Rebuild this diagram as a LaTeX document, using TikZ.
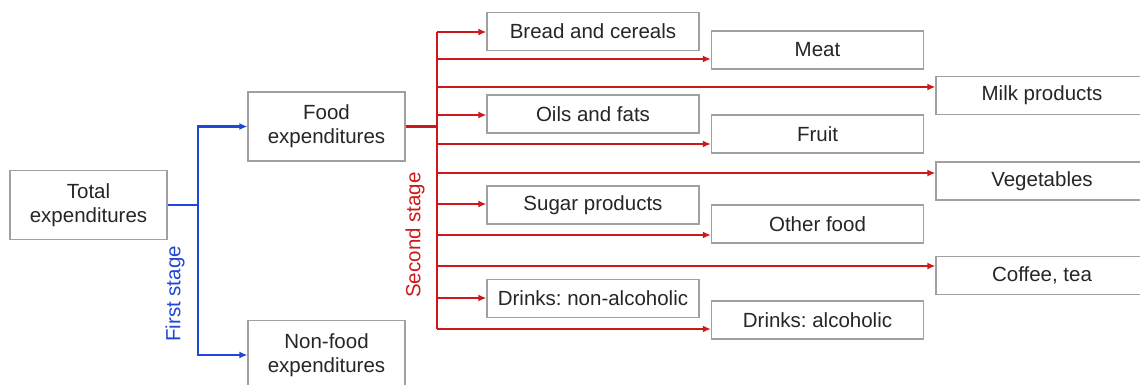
\documentclass[tikz,border=0pt]{standalone}
\usepackage{fontspec}
\setmainfont{Liberation Sans}
\usetikzlibrary{arrows.meta,calc}
\frenchspacing

\begin{document}
\begin{tikzpicture}[
  x=1pt, y=-1pt,
  line join=miter,
  box/.style={draw=boxgray, line width=1.2pt, fill=white, text=textgray,
    font=\fontsize{20.5}{24}\selectfont, align=center, inner sep=0pt,
    minimum width=212pt, minimum height=38pt},
  bigbox/.style={box, minimum width=157pt, minimum height=69pt},
  firstline/.style={firstblue, line width=2.2pt},
  secondline/.style={secondred, line width=2.2pt},
  tip/.style={-{Latex[length=8pt,width=7pt]}},
  lab/.style={rotate=90, font=\fontsize{20.5}{24}\selectfont, inner sep=0pt}
]

% --- Colors ---
\definecolor{boxgray}{RGB}{160,160,160}
\definecolor{textgray}{RGB}{38,38,38}
\definecolor{firstblue}{RGB}{30,70,215}
\definecolor{secondred}{RGB}{205,25,25}

\useasboundingbox (0,0) rectangle (1140,385);

% --- Parameters ---
\def\forkA{198}     % x of first stage fork
\def\forkB{437}     % x of second stage fork
\def\colA{593}      % left column of food groups
\def\colB{817.5}    % middle column
\def\colC{1042}     % right column

% --- First stage ---
\node[bigbox] (total) at (88.5,205) {Total\\expenditures};
\node[bigbox] (food) at (326.5,126.5) {Food\\expenditures};
\node[bigbox] (nonfood) at (326.5,355) {Non-food\\expenditures};

% --- Food groups ---
\node[box] (bread) at (\colA,31.5) {Bread and cereals};
\node[box] (oils) at (\colA,114) {Oils and fats};
\node[box] (sugar) at (\colA,205) {Sugar products};
\node[box] (softdrinks) at (\colA,298.5) {Drinks: non-alcoholic};

\node[box] (meat) at (\colB,50) {Meat};
\node[box] (fruit) at (\colB,134) {Fruit};
\node[box] (other) at (\colB,224) {Other food};
\node[box] (alcohol) at (\colB,320) {Drinks: alcoholic};

\node[box] (milk) at (\colC,95.5) {Milk products};
\node[box] (veg) at (\colC,181) {Vegetables};
\node[box] (coffee) at (\colC,275.5) {Coffee, tea};

% Blue
\coordinate (fork1) at (\forkA,205);
\draw[firstline] (total.east) -- (fork1);
\draw[firstline,tip] (fork1) |- (food.west);
\draw[firstline,tip] (fork1) |- (nonfood.west);
\node[lab,text=firstblue] (firststage) at (175,294) {First stage};

% Red
\coordinate (fork2) at (\forkB,126.5);
\draw[secondline] (food.east) -- (fork2);
\foreach \name/\y in {bread/32, meat/59, milk/87, oils/115, fruit/144,
    veg/173, sugar/204, other/235, coffee/266, softdrinks/298, alcohol/329}{
  \coordinate (t\name) at (\forkB,\y);
  \draw[secondline,tip] (t\name) -- (\name.west |- t\name);
}
\draw[secondline] (tbread) -- (talcohol);
\node[lab,text=secondred] (secondstage) at (415,235) {Second stage};
\end{tikzpicture}
\end{document}
